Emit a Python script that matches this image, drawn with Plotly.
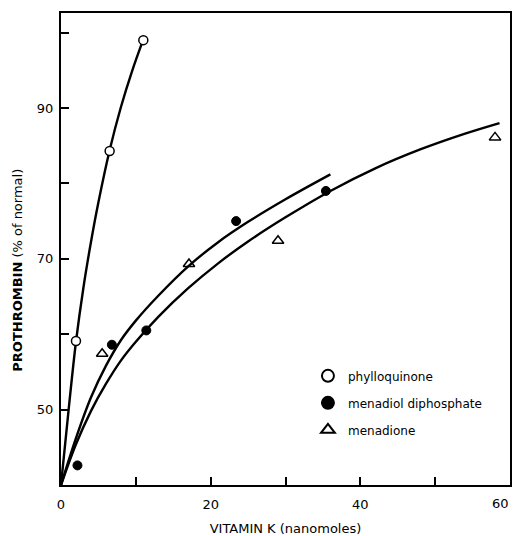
import plotly.graph_objects as go

# ---- data ----
phyllo_x = [2.0, 6.5, 11.0]
phyllo_y = [59.1, 84.3, 99.0]

menadiol_x = [2.2, 6.8, 11.4, 23.4, 35.4]
menadiol_y = [42.6, 58.6, 60.5, 75.0, 79.0]

menadione_x = [5.5, 17.1, 29.0, 58.0]
menadione_y = [57.4, 69.3, 72.4, 86.1]

# fitted curves
phyllo_curve_x = [0, 1, 2, 3, 4, 5, 6.5, 8, 9.5, 11]
phyllo_curve_y = [40, 49.8, 59.0, 66.2, 72.2, 77.5, 84.4, 90.1, 94.9, 99.1]

menadiol_curve_x = [0, 2, 4, 6, 8, 10, 13, 17, 21, 25, 30, 36]
menadiol_curve_y = [40, 46.2, 51.6, 55.8, 59.2, 61.8, 65.1, 69.0, 72.2, 74.9, 77.9, 81.2]

menadione_curve_x = [0, 2, 4, 6, 8, 10, 13, 17, 21, 25, 30, 36, 42, 48, 54, 58.6]
menadione_curve_y = [40, 45.4, 49.8, 53.4, 56.5, 59.0, 62.3, 66.1, 69.4, 72.3, 75.5, 79.0, 82.0, 84.5, 86.6, 88.0]

x_tickvals = [0, 10, 20, 30, 40, 50, 60]
x_ticktext = ["0", "", "20", "", "40", "", ""]
y_tickvals = [50, 60, 70, 80, 90, 100]
y_ticktext = ["50", "", "70", "", "90", ""]

FONT = "DejaVu Sans"

fig = go.Figure()

for cx, cy in [(phyllo_curve_x, phyllo_curve_y),
               (menadiol_curve_x, menadiol_curve_y),
               (menadione_curve_x, menadione_curve_y)]:
    fig.add_trace(go.Scatter(x=cx, y=cy, mode="lines",
                             line=dict(color="black", width=2.4, shape="spline", smoothing=1.0),
                             showlegend=False, hoverinfo="skip"))

fig.add_trace(go.Scatter(x=phyllo_x, y=phyllo_y, mode="markers", name="phylloquinone",
                         legendgroup="a",
                         marker=dict(symbol="circle", size=9, color="white",
                                     line=dict(color="black", width=1.5))))
fig.add_trace(go.Scatter(x=menadiol_x, y=menadiol_y, mode="markers", name="menadiol diphosphate",
                         legendgroup="b",
                         marker=dict(symbol="circle", size=9, color="black",
                                     line=dict(color="black", width=1))))
fig.add_trace(go.Scatter(x=menadione_x, y=menadione_y, mode="markers", name="menadione",
                         legendgroup="c",
                         marker=dict(symbol="triangle-up-open", size=10, color="black",
                                     line=dict(color="black", width=1.5))))

fig.update_layout(
    width=514, height=536,
    margin=dict(l=61, r=2, t=13, b=48),
    paper_bgcolor="white", plot_bgcolor="white",
    font=dict(family=FONT, size=13, color="black"),
    showlegend=True,
    legend=dict(x=0.55, y=0.262, xanchor="left", yanchor="top",
                bgcolor="rgba(0,0,0,0)", traceorder="grouped", tracegroupgap=8,
                font=dict(family=FONT, size=12), itemsizing="constant"),
    xaxis=dict(range=[0, 60], tickmode="array", tickvals=x_tickvals, ticktext=x_ticktext,
               ticks="inside", ticklen=8, tickwidth=1.5, tickcolor="black",
               showline=True, linecolor="black", linewidth=2, mirror=True,
               showgrid=False, zeroline=False, ticklabelstandoff=6,
               tickfont=dict(family=FONT, size=13),
               title=dict(text="VITAMIN K (nanomoles)", standoff=13,
                          font=dict(family=FONT, size=13))),
    yaxis=dict(range=[40, 102.6], tickmode="array", tickvals=y_tickvals, ticktext=y_ticktext,
               ticks="inside", ticklen=8, tickwidth=1.5, tickcolor="black",
               showline=True, linecolor="black", linewidth=2, mirror=True,
               showgrid=False, zeroline=False, ticklabelstandoff=3,
               tickfont=dict(family=FONT, size=13)),
    annotations=[
        dict(text="<b>PROTHROMBIN</b> (% of normal)", textangle=-90,
             xref="paper", yref="paper", x=-0.097, y=0.455,
             xanchor="center", yanchor="middle", showarrow=False,
             font=dict(family=FONT, size=13)),
        dict(text="60", xref="x", x=60, yref="paper", y=0, yshift=-18, xshift=-10,
             xanchor="center", yanchor="middle", showarrow=False,
             font=dict(family=FONT, size=13)),
    ],
)

fig.write_html("out.html")
